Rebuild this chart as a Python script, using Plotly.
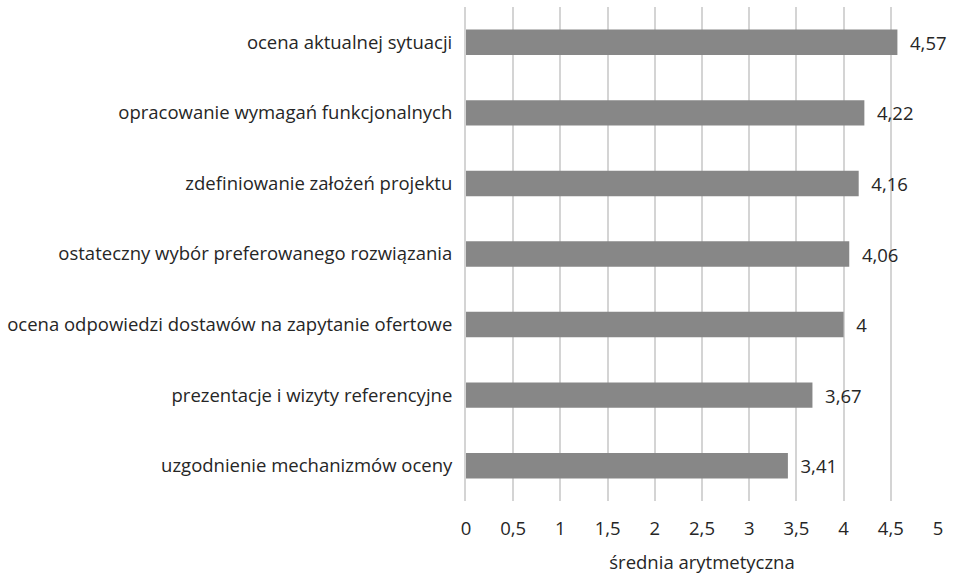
import plotly.graph_objects as go

# Stages of the selection process and their arithmetic mean ratings
categories = [
    "ocena aktualnej sytuacji",
    "opracowanie wymagań funkcjonalnych",
    "zdefiniowanie założeń projektu",
    "ostateczny wybór preferowanego rozwiązania",
    "ocena odpowiedzi dostawów na zapytanie ofertowe",
    "prezentacje i wizyty referencyjne",
    "uzgodnienie mechanizmów oceny",
]
values = [4.57, 4.22, 4.16, 4.06, 4.0, 3.67, 3.41]
x_ticks = [0, 0.5, 1, 1.5, 2, 2.5, 3, 3.5, 4, 4.5, 5]
x_tick_labels = ["0", "0,5", "1", "1,5", "2", "2,5", "3", "3,5", "4", "4,5", "5"]
axis_title = "średnia arytmetyczna"

# value labels with a decimal comma, pushed a little away from the bar end
labels = ["\u00a0\u00a0" + f"{v:g}".replace(".", ",") for v in values]

font_family = "Open Sans, Liberation Sans, sans-serif"
text_color = "#262626"
fs = 18.5

fig = go.Figure(
    go.Bar(
        x=values,
        y=categories,
        orientation="h",
        marker=dict(color="#878787", line=dict(width=0)),
        width=0.36,
        text=labels,
        textposition="outside",
        textfont=dict(family=font_family, size=fs, color=text_color),
        cliponaxis=False,
    )
)

fig.update_layout(
    width=965,
    height=576,
    margin=dict(l=465, r=27, t=7, b=71),
    paper_bgcolor="white",
    plot_bgcolor="white",
    separators=", ",
    showlegend=False,
    font=dict(family=font_family, size=fs, color=text_color),
    xaxis=dict(
        range=[0, 5],
        tickvals=x_ticks,
        ticktext=x_tick_labels,
        showgrid=True,
        gridcolor="#d4d4d4",
        gridwidth=2,
        zeroline=False,
        showline=False,
        ticks="outside",
        ticklen=11,
        tickcolor="rgba(0,0,0,0)",
        tickfont=dict(size=fs, color=text_color),
        title=dict(text=axis_title, font=dict(size=fs, color=text_color), standoff=16),
    ),
    yaxis=dict(
        autorange="reversed",
        showgrid=False,
        zeroline=False,
        showline=True,
        linecolor="#d4d4d4",
        linewidth=2,
        ticks="outside",
        ticklen=8,
        tickcolor="rgba(0,0,0,0)",
        tickfont=dict(size=fs, color=text_color),
    ),
)

fig.write_html("out.html")
